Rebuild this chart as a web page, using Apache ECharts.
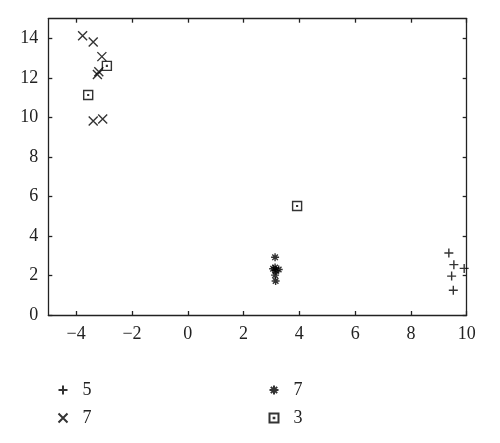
<!DOCTYPE html>
<html>
<head>
<meta charset="utf-8">
<script src="https://cdn.jsdelivr.net/npm/echarts@6/dist/echarts.min.js"></script>
<style>html,body{margin:0;padding:0;background:#fff}#c{width:500px;height:443px}</style>
</head>
<body>
<div id="c"></div>
<script>
// ---- data ----
var plusPts = [[9.36,3.14],[9.54,2.55],[9.91,2.36],[9.46,1.97],[9.52,1.25]];
var crossPts = [[-3.77,14.14],[-3.39,13.82],[-3.08,13.08],[-3.19,12.32],[-3.24,12.17],[-3.39,9.82],[-3.05,9.92]];
var starPts = [[3.13,2.92],[3.06,2.34],[3.26,2.30],[3.13,2.40],[3.16,2.24],[3.13,2.02],[3.15,1.72]];
var squarePts = [[-2.90,12.61],[-3.57,11.14],[3.92,5.52]];
var legendLabels = {s1:'5', s2:'7', s3:'7', s4:'3'};
var xTicks = [-4,-2,0,2,4,6,8,10];
var yTicks = [0,2,4,6,8,10,12,14];

var P_PLUS = 'path://M5,0L5,10M0,5L10,5';
var P_CROSS = 'path://M0,0L10,10M0,10L10,0';
var P_STAR = 'path://M5,0L5,10M0,5L10,5M1.5,1.5L8.5,8.5M1.5,8.5L8.5,1.5';
var P_SQ = 'path://M0,0L10,0L10,10L0,10ZM4.6,4.6L5.4,4.6L5.4,5.4L4.6,5.4Z';

var font = 'Liberation Serif';
var ink = '#222';
function fmt(v){ return String(v).replace('-', '\u2212'); }

function axisBase(pos, ticks, min, max, showLabel){
  return {
    type:'value', position:pos, min:min, max:max,
    splitLine:{show:false},
    axisLine:{show:true, onZero:false, lineStyle:{color:ink, width:1.3}},
    axisTick:{show:true, inside:true, length:4, customValues:ticks, lineStyle:{color:ink, width:1.3}},
    axisLabel:{show:showLabel, customValues:ticks, formatter:fmt, fontFamily:font, fontSize:18, color:ink, margin:10}
  };
}

var st = {color:'none', borderColor:'#000', borderWidth:1.4};
function ser(name, data, sym, size){
  return {name:name, type:'scatter', data:data, symbol:sym, symbolSize:size,
    itemStyle:st, xAxisIndex:0, yAxisIndex:0, emphasis:{disabled:true}, animation:false};
}

var chart = echarts.init(document.getElementById('c'), null, {renderer:'canvas'});
chart.setOption({
  animation:false,
  grid:{left:48.3, right:33.3, top:18.7, bottom:128},
  xAxis:[axisBase('bottom', xTicks, -5, 10, true), axisBase('top', xTicks, -5, 10, false)],
  yAxis:[axisBase('left', yTicks, 0, 15, true), axisBase('right', yTicks, 0, 15, false)],
  legend:[
    {orient:'vertical', left:51, top:376, itemWidth:9, itemHeight:9, itemGap:10,
     data:[{name:'s1', icon:P_PLUS},{name:'s2', icon:P_CROSS}],
     formatter:function(n){return legendLabels[n];},
     textStyle:{fontFamily:font, fontSize:18, color:ink, padding:[0,0,0,10]}, selectedMode:false},
    {orient:'vertical', left:262, top:376, itemWidth:9, itemHeight:9, itemGap:10,
     data:[{name:'s3', icon:P_STAR},{name:'s4', icon:P_SQ}],
     formatter:function(n){return legendLabels[n];},
     textStyle:{fontFamily:font, fontSize:18, color:ink, padding:[0,0,0,10]}, selectedMode:false}
  ],
  series:[
    ser('s1', plusPts, P_PLUS, 9),
    ser('s2', crossPts, P_CROSS, 9),
    ser('s3', starPts, P_STAR, 8),
    ser('s4', squarePts, P_SQ, 9)
  ]
});
</script>
</body>
</html>
